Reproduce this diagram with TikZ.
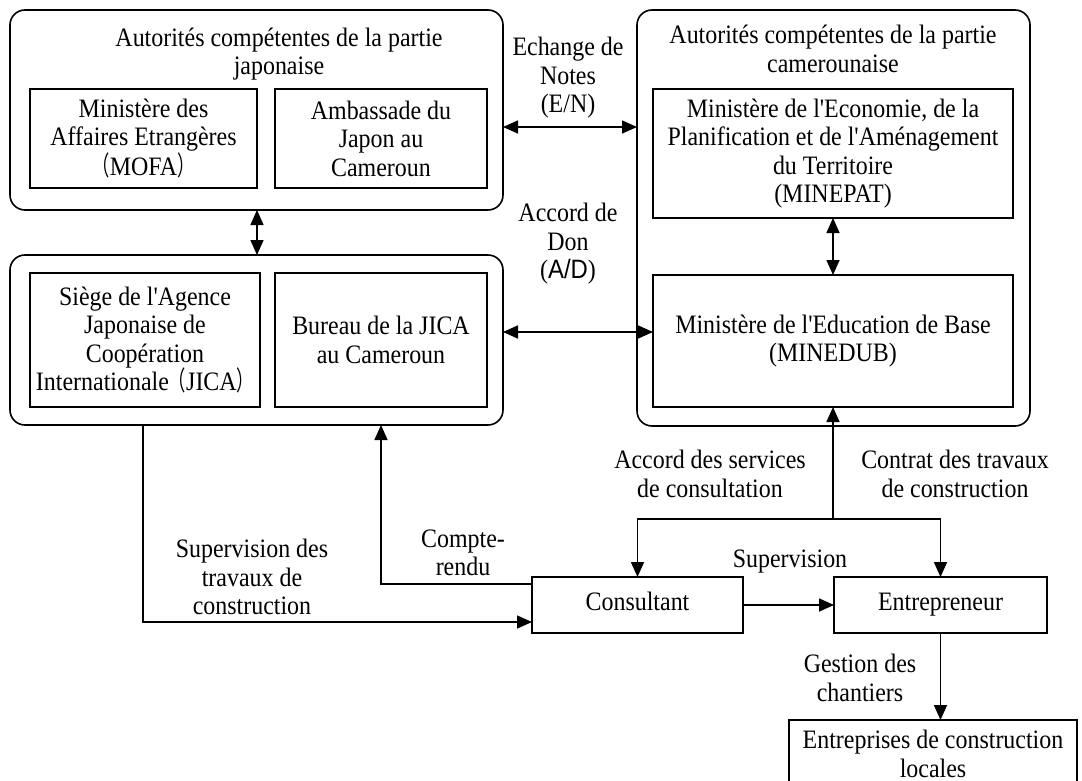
\documentclass[tikz,border=0pt]{standalone}
\usepackage{fontspec}
\setmainfont{Liberation Serif}[Ligatures=TeXOff, FakeStretch=0.9]
\newfontfamily\cjkfont{Noto Sans CJK SC}[FakeStretch=0.65]
\newfontfamily\arialfont{Liberation Sans}[FakeStretch=0.9]
\usetikzlibrary{arrows.meta}

% full-width brackets, set narrower than their usual em box
\newcommand{\lpar}{{\cjkfont （}}
\newcommand{\rpar}{{\cjkfont ）}}

\tikzset{
  txt/.style={font=\fontsize{26.6}{28.5}\selectfont, align=center, inner sep=0pt, outer sep=0pt},
  group/.style={draw, rounded corners=15pt, line width=1.6pt, inner sep=0pt, outer sep=0pt},
  unit/.style={draw, line width=1.6pt, txt},
  link/.style={line width=1.6pt, -{Triangle[length=15pt,width=13pt]}},
  dlink/.style={line width=1.6pt, {Triangle[length=15pt,width=13pt]}-{Triangle[length=15pt,width=13pt]}},
}

\begin{document}
\begin{tikzpicture}[x=1pt,y=-1pt]
\useasboundingbox (0,0) rectangle (1082,781);
\clip (0,0) rectangle (1082,781);

% Japanese side: authorities
\node[group, minimum width=493pt, minimum height=200pt] (tl) at (256.5,110) {};
\node[txt] (tltitle) at (279,54) {Autorités compétentes de la partie\\japonaise};
\node[unit, minimum width=227pt, minimum height=99pt] (mofa) at (143.5,138.5)
  {Ministère des\\Affaires Etrangères\\\lpar MOFA\rpar};
\node[unit, minimum width=212pt, minimum height=99pt] (amb) at (381,138.5)
  {Ambassade du\\Japon au\\Cameroun};

% Japanese side: JICA
\node[group, minimum width=493pt, minimum height=170pt] (bl) at (256.5,340) {};
\node[unit, minimum width=230pt, minimum height=134pt] (siege) at (145,340)
  {Siège de l'Agence\\Japonaise de\\Coopération\\Internationale\lpar JICA\rpar};
\node[unit, minimum width=212pt, minimum height=134pt] (bureau) at (381,340)
  {Bureau de la JICA\\au Cameroun};

% Cameroonian side
\node[group, minimum width=393pt, minimum height=416pt] (cm) at (833.5,218) {};
\node[txt] (cmtitle) at (833,49) {Autorités compétentes de la partie\\camerounaise};
\node[unit, minimum width=360pt, minimum height=129pt] (minepat) at (833,153.5)
  {Ministère de l'Economie, de la\\Planification et de l'Aménagement\\du Territoire\\(MINEPAT)};
\node[unit, minimum width=360pt, minimum height=132pt] (minedub) at (833,341)
  {Ministère de l'Education de Base\\(MINEDUB)};

% Works
\node[unit, minimum width=211pt, minimum height=56pt] (cons) at (637.5,605) {\strut Consultant};
\node[unit, minimum width=213pt, minimum height=56pt] (entr) at (940.5,605) {\strut Entrepreneur};
\node[unit, minimum width=288pt, minimum height=68pt] (loc) at (933,754)
  {Entreprises de construction\\locales};

% Helper coordinates for bends
\coordinate (en) at (0,127);
\coordinate (ad) at (0,332);
\coordinate (vj) at (257,0);
\coordinate (j) at (833,519);
\coordinate (cr) at (0,584);
\coordinate (sv) at (143,622);

% Connectors
\draw[dlink] (tl.east |- en) -- (cm.west |- en);
\draw[dlink] (bl.east |- ad) -- (minedub.west |- ad);
\draw[dlink] (tl.south -| vj) -- (bl.north -| vj);
\draw[dlink] (minepat.south) -- (minedub.north);
\draw[link] (j) -- (minedub.south);
\draw[link] (j) -| (cons.north);
\draw[link] (j) -| (entr.north);
\draw[link] (cons.west |- cr) -| (bl.south -| bureau.south);
\draw[link] (bl.south -| sv) |- (cons.west |- sv);
\draw[link] (cons.east) -- (entr.west);
\draw[link] (entr.south) -- (loc.north -| entr.south);

% Connector labels
\node[txt] (lbl-en) at (568,78) {Echange de\\Notes\\(E/N)};
\node[txt] (lbl-ad) at (568,244) {Accord de\\Don\\({\arialfont A/D})};
\node[txt] (lbl-acc) at (710,474) {Accord des services\\de consultation};
\node[txt] (lbl-ctr) at (955,474) {Contrat des travaux\\de construction};
\node[txt] (lbl-cr) at (463,553) {Compte-\\rendu};
\node[txt] (lbl-sup) at (790,562) {Supervision};
\node[txt] (lbl-supt) at (252,577) {Supervision des\\travaux de\\construction};
\node[txt] (lbl-ges) at (860,678) {Gestion des\\chantiers};
\end{tikzpicture}
\end{document}
